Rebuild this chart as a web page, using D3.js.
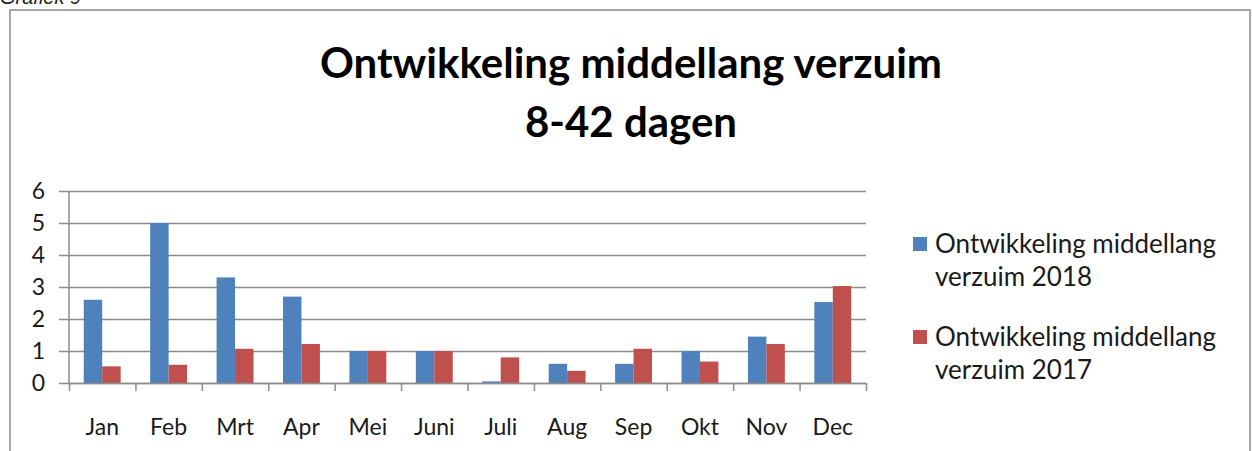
<!DOCTYPE html>
<html>
<head>
<meta charset="utf-8">
<script src="https://cdn.jsdelivr.net/npm/d3@7"></script>
<style>
  body { margin: 0; background: #fff; }
  svg text { font-family: Lato, "Noto Sans", sans-serif; }
</style>
</head>
<body>
<div class="visHolder"></div>
<script>
// ========================================
// Data
// ========================================
const months = ['Jan', 'Feb', 'Mrt', 'Apr', 'Mei', 'Juni', 'Juli', 'Aug', 'Sep', 'Okt', 'Nov', 'Dec'];
const values2018 = [2.6, 5.0, 3.3, 2.7, 1.0, 1.0, 0.05, 0.6, 0.6, 1.0, 1.45, 2.53];
const values2017 = [0.52, 0.57, 1.07, 1.22, 1.0, 1.0, 0.8, 0.38, 1.07, 0.67, 1.22, 3.03];
const seriesNames = ['Ontwikkeling middellang verzuim 2018', 'Ontwikkeling middellang verzuim 2017'];
const yTicks = [0, 1, 2, 3, 4, 5, 6];

// ========================================
// Dimensions
// ========================================
const
  width = 1252,
  height = 451,
  plotLeft = 69,      // y axis position
  plotRight = 866,    // end of gridlines
  plotTop = 191,      // value 6
  plotBottom = 383,   // value 0
  blue = '#4f81bd',
  red = '#c0504d',
  gridColor = '#8c8c8c';

const svg = d3.select('.visHolder')
  .append('svg')
    .attr('width', width)
    .attr('height', height);

// caption above frame (cut at the top, as in the original)
svg.append('text')
  .attr('x', 0)
  .attr('y', 4)
  .style('font-family', '"Liberation Sans", Arial, sans-serif')
  .style('font-style', 'italic')
  .style('font-size', '20px')
  .attr('fill', '#222')
  .text('Grafiek 9');

// frame
svg.append('rect')
  .attr('x', 10)
  .attr('y', 10)
  .attr('width', 1240)
  .attr('height', 460)
  .attr('fill', 'none')
  .attr('stroke', '#a6a6a6')
  .attr('stroke-width', 2);

// ========================================
// Title
// ========================================
const title = svg.append('text')
  .attr('text-anchor', 'middle')
  .style('font-size', '42px')
  .style('font-weight', 'bold')
  .attr('fill', '#000');
title.append('tspan').attr('x', 631).attr('y', 78).text('Ontwikkeling middellang verzuim');
title.append('tspan').attr('x', 631).attr('y', 137).text('8-42 dagen');

// ========================================
// Scales
// ========================================
const x0 = d3.scaleBand()
  .domain(months)
  .range([plotLeft, plotRight])
  .padding(0);

const x1 = d3.scaleBand()
  .domain(['2018', '2017'])
  .range([0, x0.bandwidth()])
  .paddingInner(0)
  .paddingOuter(0.8);

const y = d3.scaleLinear()
  .domain([0, 6])
  .range([plotBottom, plotTop]);

// ========================================
// Gridlines + y labels
// ========================================
const yAxis = svg.append('g')
  .attr('transform', 'translate(' + (plotLeft - 10) + ',0)')
  .call(d3.axisLeft(y).tickValues(yTicks).tickFormat(d3.format('d'))
    .tickSize(-(plotRight - plotLeft + 10)).tickPadding(14));
yAxis.select('.domain').remove();
yAxis.selectAll('line').attr('stroke', gridColor).attr('stroke-width', 1.5);
yAxis.selectAll('text')
  .style('font-size', '23px')
  .attr('fill', '#1a1a1a');

// vertical axis line
svg.append('line')
  .attr('x1', plotLeft).attr('x2', plotLeft)
  .attr('y1', plotTop).attr('y2', plotBottom)
  .attr('stroke', gridColor).attr('stroke-width', 1.5);

// ========================================
// Bars
// ========================================
const groups = svg.append('g')
  .selectAll('g')
  .data(months)
  .enter()
  .append('g')
    .attr('transform', d => 'translate(' + x0(d) + ',0)');

groups.append('rect')
  .attr('x', x1('2018'))
  .attr('y', (d, i) => y(values2018[i]))
  .attr('width', x1.bandwidth())
  .attr('height', (d, i) => y(0) - y(values2018[i]))
  .attr('fill', blue);

groups.append('rect')
  .attr('x', x1('2017'))
  .attr('y', (d, i) => y(values2017[i]))
  .attr('width', x1.bandwidth())
  .attr('height', (d, i) => y(0) - y(values2017[i]))
  .attr('fill', red);

// ========================================
// X axis: boundary ticks + month labels
// ========================================
const xEdges = d3.scaleLinear().domain([0, months.length]).range([plotLeft, plotRight]);
const xTickAxis = svg.append('g')
  .attr('transform', 'translate(0,' + plotBottom + ')')
  .call(d3.axisBottom(xEdges).tickValues(d3.range(months.length + 1)).tickFormat('').tickSize(8).tickSizeOuter(0));
xTickAxis.selectAll('line, path').attr('stroke', gridColor).attr('stroke-width', 1.5);

const xLabels = svg.append('g')
  .attr('transform', 'translate(0,' + plotBottom + ')')
  .call(d3.axisBottom(x0).tickSize(0).tickPadding(36));
xLabels.select('.domain').remove();
xLabels.selectAll('text')
  .style('font-size', '23px')
  .attr('fill', '#1a1a1a');

// ========================================
// Legend
// ========================================
const legend = svg.append('g');
const legendItems = [
  { color: blue, lines: ['Ontwikkeling middellang', 'verzuim 2018'], y: 253 },
  { color: red, lines: ['Ontwikkeling middellang', 'verzuim 2017'], y: 346 }
];
legendItems.forEach(item => {
  legend.append('rect')
    .attr('x', 913).attr('y', item.y - 16)
    .attr('width', 14).attr('height', 14)
    .attr('fill', item.color);
  const t = legend.append('text')
    .style('font-size', '26px')
    .attr('fill', '#1a1a1a');
  item.lines.forEach((line, k) => {
    t.append('tspan').attr('x', 935).attr('y', item.y + k * 33).text(line);
  });
});
</script>
</body>
</html>
